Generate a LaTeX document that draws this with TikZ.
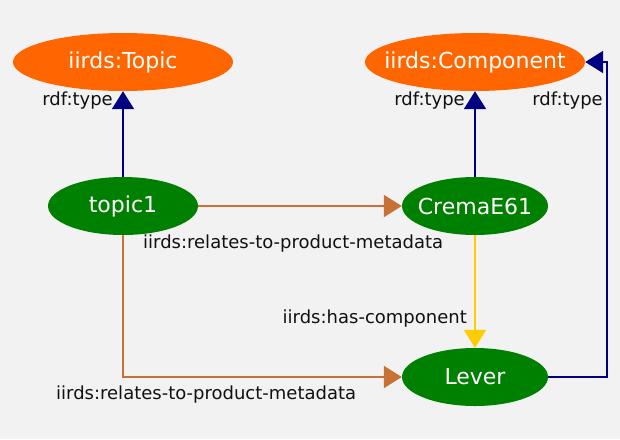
\documentclass[tikz,border=0pt]{standalone}
\usepackage{fontspec}
\setmainfont{DejaVu Sans}
\usetikzlibrary{shapes.geometric,arrows.meta}
\definecolor{bg}{HTML}{F2F2F2}
\definecolor{classc}{HTML}{FF6600}
\definecolor{instc}{HTML}{008000}
\definecolor{typec}{HTML}{000080}
\definecolor{relc}{HTML}{C87137}
\definecolor{hasc}{HTML}{FFCC00}
\definecolor{labc}{HTML}{111111}
\newcommand{\zw}[1]{\makebox[0pt]{#1}}
\tikzset{
  classnode/.style={ellipse, fill=classc, text=white, inner sep=0pt, minimum width=220pt, minimum height=58pt, font=\fontsize{22}{26}\selectfont},
  instnode/.style={ellipse, fill=instc, text=white, inner sep=0pt, minimum height=58pt, font=\fontsize{22}{26}\selectfont},
  elabel/.style={text=labc, inner sep=0pt, font=\fontsize{18}{21}\selectfont},
  conn/.style={line width=2pt, -{Triangle[length=18pt,width=22pt]}},
  typearrow/.style={conn, draw=typec},
  relarrow/.style={conn, draw=relc},
  hasarrow/.style={conn, draw=hasc}
}
\begin{document}
\begin{tikzpicture}[x=1pt,y=-1pt]
\fill[bg] (0,0) rectangle (620,439);
\useasboundingbox (0,0) rectangle (620,439);
\node[classnode] (topicT) at (123,62) {\zw{iirds:Topic}};
\node[classnode] (compT) at (475,62) {\zw{iirds:Component}};
\node[instnode, minimum width=150pt] (topic1) at (123,206) {\zw{topic1}};
\node[instnode, minimum width=146pt] (crema) at (475,206) {\zw{CremaE61}};
\node[instnode, minimum width=146pt] (lever) at (475,377) {\zw{Lever}};
\coordinate (rc) at (607,377);
\draw[typearrow] (topic1.north) -- (topicT.south);
\draw[typearrow] (crema.north) -- (compT.south);
\draw[typearrow] (lever.east) -- (rc) |- (compT.east);
\draw[relarrow] (topic1.east) -- (crema.west);
\draw[relarrow] (topic1.south) |- (lever.west);
\draw[hasarrow] (crema.south) -- (lever.north);
\node[elabel, anchor=east] (l1) at (113,101) {rdf:type};
\node[elabel, anchor=east] (l2) at (465,101) {rdf:type};
\node[elabel, anchor=east] (l3) at (603,101) {rdf:type};
\node[elabel, anchor=west] (l4) at (143,244) {iirds:relates-to-product-metadata};
\node[elabel, anchor=west] (l5) at (56,395) {iirds:relates-to-product-metadata};
\node[elabel, anchor=east] (l6) at (467,319) {iirds:has-component};
\end{tikzpicture}
\end{document}
